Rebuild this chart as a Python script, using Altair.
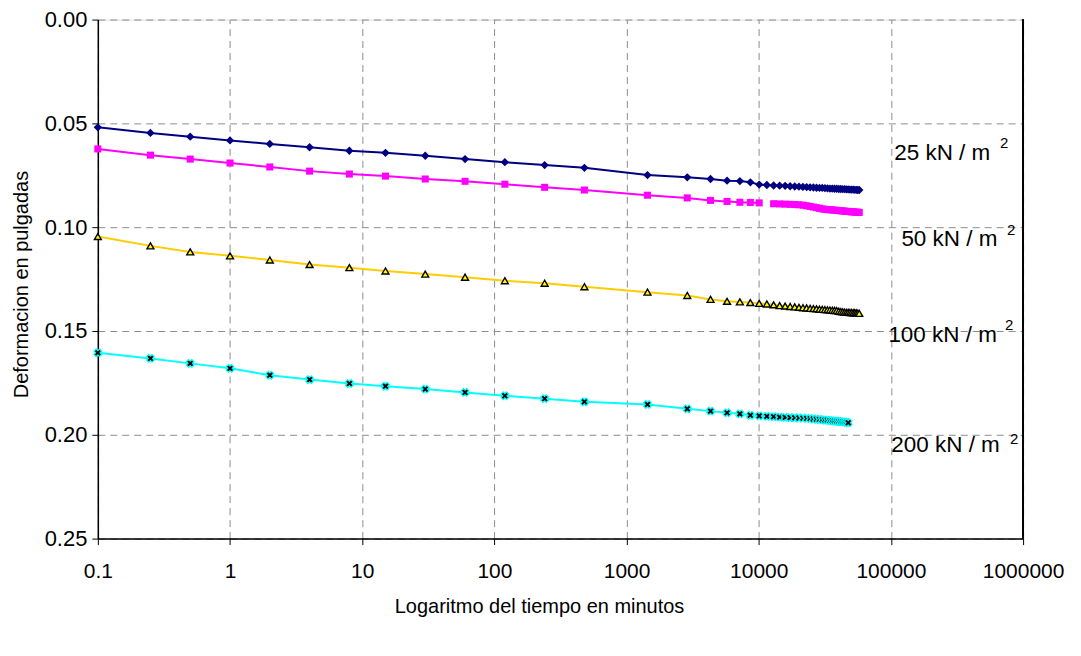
import altair as alt
import pandas as pd

# ---- data ----
time_min = [0.1, 0.25, 0.5, 1, 2, 4, 8, 15, 30, 60, 120, 240, 480, 1440, 2880,
            4320, 5760, 7200, 8640, 10080,
            11520, 12960, 14400, 15840, 17280, 18720, 20160, 21600, 23040, 24480,
            25920, 27360, 28800, 30240, 31680, 33120, 34560, 36000, 37440, 38880,
            40320, 41760, 43200, 44640, 46080, 47520, 48960, 50400, 51840, 53280,
            54720, 56160, 57600]

def_25 = [0.0519, 0.0546, 0.0564, 0.0582, 0.0599, 0.0615, 0.0632, 0.0642, 0.0656, 0.0672,
          0.0687, 0.0701, 0.0714, 0.0749, 0.0760, 0.0768, 0.0776, 0.0778, 0.0784, 0.0795,
          0.0797, 0.0799, 0.0800, 0.0801, 0.0803, 0.0804, 0.0805, 0.0806, 0.0807, 0.0808,
          0.0809, 0.0810, 0.0811, 0.0811, 0.0812, 0.0813, 0.0814, 0.0814, 0.0815, 0.0815,
          0.0816, 0.0816, 0.0817, 0.0817, 0.0818, 0.0818, 0.0819, 0.0819, 0.0819, 0.0820,
          0.0820, 0.0821, 0.0821]

def_50 = [0.0623, 0.0653, 0.0672, 0.0691, 0.0710, 0.0730, 0.0744, 0.0754, 0.0768, 0.0779,
          0.0793, 0.0808, 0.0821, 0.0846, 0.0859, 0.0871, 0.0876, 0.0880, 0.0881, 0.0883,
          None, 0.0887, 0.0888, 0.0889, 0.0890, 0.0891, 0.0892, 0.0894, 0.0897, 0.0900,
          0.0903, 0.0906, 0.0909, 0.0912, 0.0914, 0.0915, 0.0916, 0.0917, 0.0918, 0.0919,
          0.0920, 0.0921, 0.0922, 0.0923, 0.0924, 0.0924, 0.0925, 0.0926, 0.0926, 0.0927,
          0.0928, 0.0928, 0.0929]

def_100 = [0.1045, 0.1090, 0.1119, 0.1138, 0.1158, 0.1180, 0.1195, 0.1211, 0.1226, 0.1241,
           0.1258, 0.1270, 0.1287, 0.1313, 0.1329, 0.1348, 0.1357, 0.1360, 0.1363, 0.1367,
           0.1370, 0.1374, 0.1378, 0.1380, 0.1382, 0.1384, 0.1386, 0.1388, 0.1389, 0.1391,
           0.1392, 0.1393, 0.1395, 0.1396, 0.1397, 0.1398, 0.1399, 0.1400, 0.1401, 0.1402,
           0.1405, 0.1407, 0.1408, 0.1409, 0.1410, 0.1410, 0.1411, 0.1411, 0.1412, 0.1412,
           0.1413, 0.1414, 0.1415]

def_200 = [0.1605, 0.1632, 0.1656, 0.1680, 0.1713, 0.1734, 0.1753, 0.1766, 0.1780, 0.1796,
           0.1812, 0.1826, 0.1841, 0.1854, 0.1875, 0.1886, 0.1894, 0.1899, 0.1906, 0.1909,
           0.1911, 0.1913, 0.1915, 0.1916, 0.1917, 0.1918, 0.1919, 0.1920, 0.1921, 0.1922,
           0.1924, 0.1925, 0.1926, 0.1928, 0.1929, 0.1930, 0.1932, 0.1933, 0.1934, 0.1935,
           0.1936, 0.1937, 0.1938, 0.1939, 0.1940, 0.1942]

series_keys = ["25", "50", "100", "200"]
series_vals = [def_25, def_50, def_100, def_200]

label_text = ["25 kN / m", "50 kN / m", "100 kN / m", "200 kN / m"]
label_time = [106000, 120000, 95700, 100700]
label_def = [0.0641, 0.1055, 0.1517, 0.2051]
sup_time = [718800, 811000, 783000, 855000]
sup_def = [0.0596, 0.1015, 0.1472, 0.2019]

x_ticks = [0.1, 1, 10, 100, 1000, 10000, 100000, 1000000]
y_ticks = [0.0, 0.05, 0.10, 0.15, 0.20, 0.25]

# ---- build tables ----
rows = []
for key, vals in zip(series_keys, series_vals):
    seg = 0
    for t, v in zip(time_min, vals):
        if v is None:
            seg += 1
            continue
        rows.append({"t": t, "d": v, "s": key, "seg": f"{key}-{seg}"})
df = pd.DataFrame(rows)

labels = pd.DataFrame({"txt": label_text, "lt": label_time, "ld": label_def,
                       "st": sup_time, "sd": sup_def, "sup": ["2"] * 4})

FONT = "Liberation Sans"
H = 520

xscale = alt.Scale(type="log", domain=[0.1, 1000000], nice=False)
yscale = alt.Scale(domain=[0, 0.25], reverse=True, nice=False, zero=False)

xaxis = alt.Axis(values=x_ticks, title="Logaritmo del tiempo en minutos",
                 labelExpr="datum.value < 1 ? '0.1' : format(datum.value, 'd')",
                 labelFlush=False, labelOverlap=False,
                 grid=True, gridDash=[7, 5], gridColor="#8c8c8c", gridWidth=1,
                 domainColor="black", domainWidth=1.5, tickColor="black", tickSize=6,
                 labelFontSize=21, labelPadding=16, labelColor="black",
                 titleFontSize=20, titleFontWeight="normal", titleColor="black",
                 titleX=442, titleY=68, titleBaseline="middle", titleAnchor="middle",
                 labelFont=FONT, titleFont=FONT)
yaxis = alt.Axis(values=y_ticks, format=".2f", title="Deformacion en pulgadas",
                 labelFlush=False, labelOverlap=False,
                 grid=True, gridDash=[7, 5], gridColor="#8c8c8c", gridWidth=1,
                 domainColor="black", domainWidth=1.5, tickColor="black", tickSize=6,
                 labelFontSize=22, labelPadding=5, labelColor="black",
                 titleFontSize=20, titleFontWeight="normal", titleColor="black",
                 titleAngle=-90, titleX=-86, titleY=265, titleBaseline="top",
                 titleAlign="center", labelFont=FONT, titleFont=FONT)

base = alt.Chart(df)
enc_x = alt.X("t:Q", scale=xscale, axis=xaxis)
enc_y = alt.Y("d:Q", scale=yscale, axis=yaxis)

colors = {"25": "#000080", "50": "#FF00FF", "100": "#FFCC00", "200": "#00FFFF"}

layers = []
for key in series_keys:
    layers.append(
        base.transform_filter(alt.datum.s == key)
        .mark_line(color=colors[key], strokeWidth=2)
        .encode(x=enc_x, y=enc_y, detail="seg:N")
    )

layers.append(base.transform_filter(alt.datum.s == "25")
              .mark_point(shape="diamond", filled=True, color="#000080", size=70, opacity=1)
              .encode(x="t:Q", y="d:Q"))
layers.append(base.transform_filter(alt.datum.s == "50")
              .mark_point(shape="square", filled=True, color="#FF00FF", size=50, opacity=1)
              .encode(x="t:Q", y="d:Q"))
layers.append(base.transform_filter(alt.datum.s == "100")
              .mark_point(shape="triangle-up", fill="#FFFF00", stroke="black", strokeWidth=1.4,
                          size=48, opacity=1, fillOpacity=1)
              .encode(x="t:Q", y="d:Q"))
layers.append(base.transform_filter(alt.datum.s == "200")
              .mark_point(shape="cross", angle=45, fill="black", stroke="#00FFFF", strokeWidth=1.2,
                          size=60, opacity=1, fillOpacity=1)
              .encode(x="t:Q", y="d:Q"))

right_rule = alt.Chart(labels).mark_rule(color="black", strokeWidth=1.5).encode(
    x=alt.datum(1000000), y=alt.datum(0), y2=alt.datum(0.25))

txt = alt.Chart(labels).mark_text(align="left", baseline="middle", fontSize=22.5,
                                  font=FONT, color="black").encode(
    x="lt:Q", y="ld:Q", text="txt:N")
sup = alt.Chart(labels).mark_text(align="center", baseline="middle", fontSize=15,
                                  font=FONT, color="black").encode(
    x="st:Q", y="sd:Q", text="sup:N")

chart = alt.layer(*layers, right_rule, txt, sup).properties(
    width=927, height=H,
    padding={"left": 90, "top": 11, "right": 50, "bottom": 100},
    autosize=alt.AutoSizeParams(type="none"),
    background="white",
).configure_view(stroke=None).configure(font=FONT)

chart.save("out.html", embed_options={"renderer": "svg", "actions": False})
